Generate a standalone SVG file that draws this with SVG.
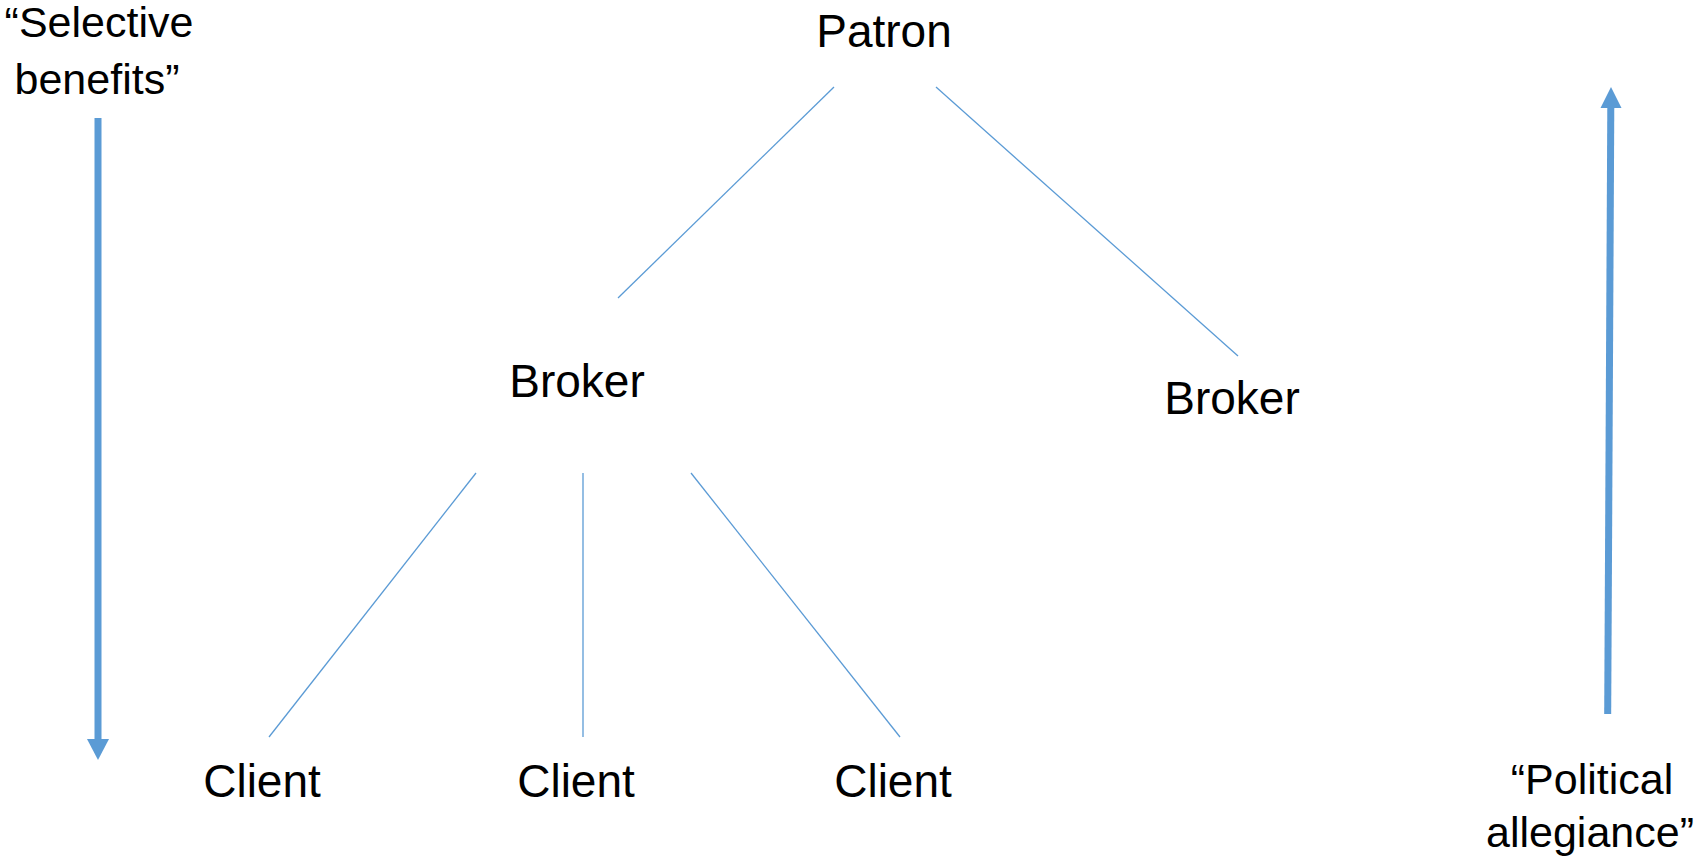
<svg xmlns="http://www.w3.org/2000/svg" width="1696" height="856" viewBox="0 0 1696 856">
<style>
  .lbl { font-family: "Liberation Sans", Arial, sans-serif; font-size: 46px; fill: #000; text-anchor: middle; }
  .q { font-family: "Liberation Sans", Arial, sans-serif; font-size: 43px; fill: #000; text-anchor: middle; }
  .link { stroke: #5B9BD5; stroke-width: 1.3; fill: none; }
  .flow { stroke: #5B9BD5; stroke-width: 7; fill: none; }
  .head { fill: #5B9BD5; }
</style>
<rect width="1696" height="856" fill="#fff"/>
<g id="connectors">
  <line class="link" x1="834" y1="87" x2="618" y2="298"/>
  <line class="link" x1="936" y1="87" x2="1238" y2="356"/>
  <line class="link" x1="476" y1="473" x2="269" y2="737"/>
  <line class="link" x1="583" y1="473" x2="583" y2="737"/>
  <line class="link" x1="691" y1="473" x2="900" y2="737"/>
</g>
<g id="arrow-benefits">
  <line class="flow" x1="98" y1="118" x2="98" y2="740"/>
  <polygon class="head" points="87,739 109,739 98,760"/>
</g>
<g id="arrow-allegiance">
  <line class="flow" x1="1607.7" y1="714" x2="1610.8" y2="106"/>
  <polygon class="head" points="1600.5,108 1621.5,108 1611,87"/>
</g>
<g id="patron"><text class="lbl" x="884" y="47">Patron</text></g>
<g id="broker1"><text class="lbl" x="577" y="397">Broker</text></g>
<g id="broker2"><text class="lbl" x="1232" y="414">Broker</text></g>
<g id="client1"><text class="lbl" x="262" y="797">Client</text></g>
<g id="client2"><text class="lbl" x="576" y="797">Client</text></g>
<g id="client3"><text class="lbl" x="893" y="797">Client</text></g>
<g id="label-benefits">
  <text class="q" x="99" y="37">“Selective</text>
  <text class="q" x="97" y="94">benefits”</text>
</g>
<g id="label-allegiance">
  <text class="q" x="1592" y="794">“Political</text>
  <text class="q" x="1590" y="847">allegiance”</text>
</g>
</svg>
